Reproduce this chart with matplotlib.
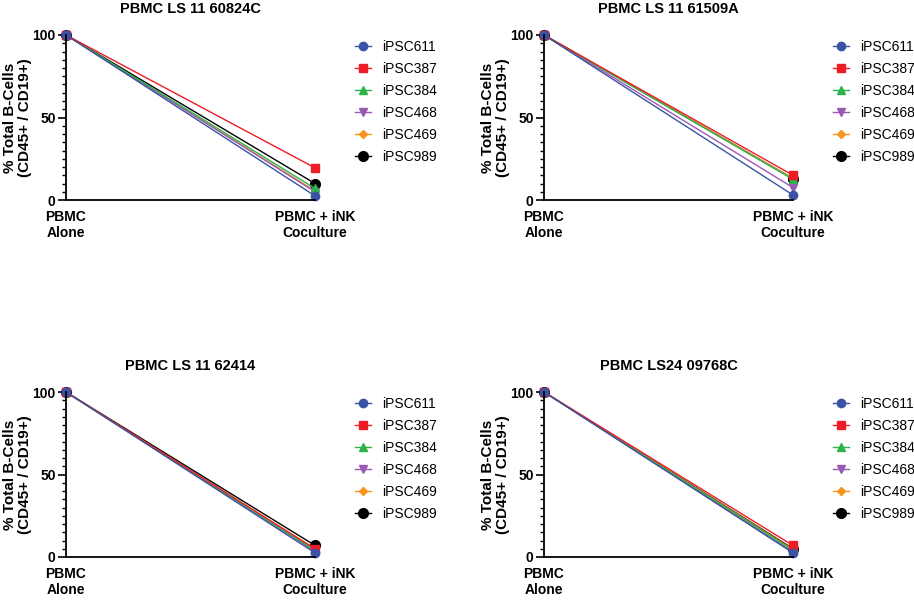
import matplotlib
matplotlib.use("Agg")
import matplotlib.pyplot as plt
from matplotlib.ticker import MultipleLocator

plt.rcParams['font.family'] = ['Liberation Sans', 'DejaVu Sans']

titles = ["PBMC LS 11 60824C", "PBMC LS 11 61509A", "PBMC LS 11 62414", "PBMC LS24 09768C"]
categories = ["PBMC\nAlone", "PBMC + iNK\nCoculture"]
series = ["iPSC611", "iPSC387", "iPSC384", "iPSC468", "iPSC469", "iPSC989"]
colors = ["#3A53A4", "#EE1C25", "#2DB34A", "#9B59B6", "#F7941D", "#000000"]
markers = ["o", "s", "^", "v", "D", "o"]
msizes = [6, 6, 6, 6, 4, 7]

# values at coculture (PBMC alone = 100 for all)
alone = [100, 100, 100, 100, 100, 100]
panel1 = [2.5, 19.5, 7.0, 5.0, 5.5, 10.0]
panel2 = [3.0, 15.0, 12.5, 7.5, 13.0, 13.0]
panel3 = [2.5, 5.0, 4.0, 3.5, 4.5, 7.0]
panel4 = [2.5, 7.0, 4.0, 3.0, 4.5, 5.0]
panels = [panel1, panel2, panel3, panel4]

fig = plt.figure(figsize=(9.14, 6.0), dpi=100)
W, H = 914, 600
boxes = [(66, 200), (544, 200), (66, 557), (544, 557)]
aw, ah = 249, 165

for i, (bx, by) in enumerate(boxes):
    ax = fig.add_axes([bx / W, (H - by) / H, aw / W, ah / H])
    handles = [None] * len(series)
    for j in reversed(range(len(series))):
        h, = ax.plot([0, 1], [alone[j], panels[i][j]], color=colors[j], lw=1.0,
                     marker=markers[j], ms=msizes[j], mec=colors[j], mfc=colors[j],
                     label=series[j], clip_on=False)
        handles[j] = h
    ax.set_xlim(0, 1)
    ax.set_ylim(0, 100)
    ax.set_xticks([0, 1])
    ax.set_xticklabels(categories, fontsize=10, fontweight='bold', linespacing=1.25)
    ax.tick_params(axis='x', length=0, pad=7)
    ax.set_yticks([0, 50, 100])
    ax.set_yticklabels(["0", "50", "100"], fontsize=10, fontweight='bold')
    ax.yaxis.set_minor_locator(MultipleLocator(5))
    ax.tick_params(axis='y', which='major', length=6, width=1.2, pad=1.5)
    ax.tick_params(axis='y', which='minor', length=3, width=1.0)
    for s in ['top', 'right']:
        ax.spines[s].set_visible(False)
    for s in ['left', 'bottom']:
        ax.spines[s].set_linewidth(1.3)
    ax.set_title(titles[i], fontsize=10.5, fontweight='bold', pad=16)
    ax.set_ylabel("% Total B-Cells\n(CD45+ / CD19+)", fontsize=11, fontweight='bold',
                  linespacing=1.15)
    ax.yaxis.set_label_coords(-0.135, 0.5)
    ax.legend(handles=handles, loc='upper left', bbox_to_anchor=(1.137, 1.005),
              frameon=False, fontsize=10, handlelength=1.15, labelspacing=0.58,
              handletextpad=0.85, borderaxespad=0)

fig.savefig("out.png", dpi=100)
